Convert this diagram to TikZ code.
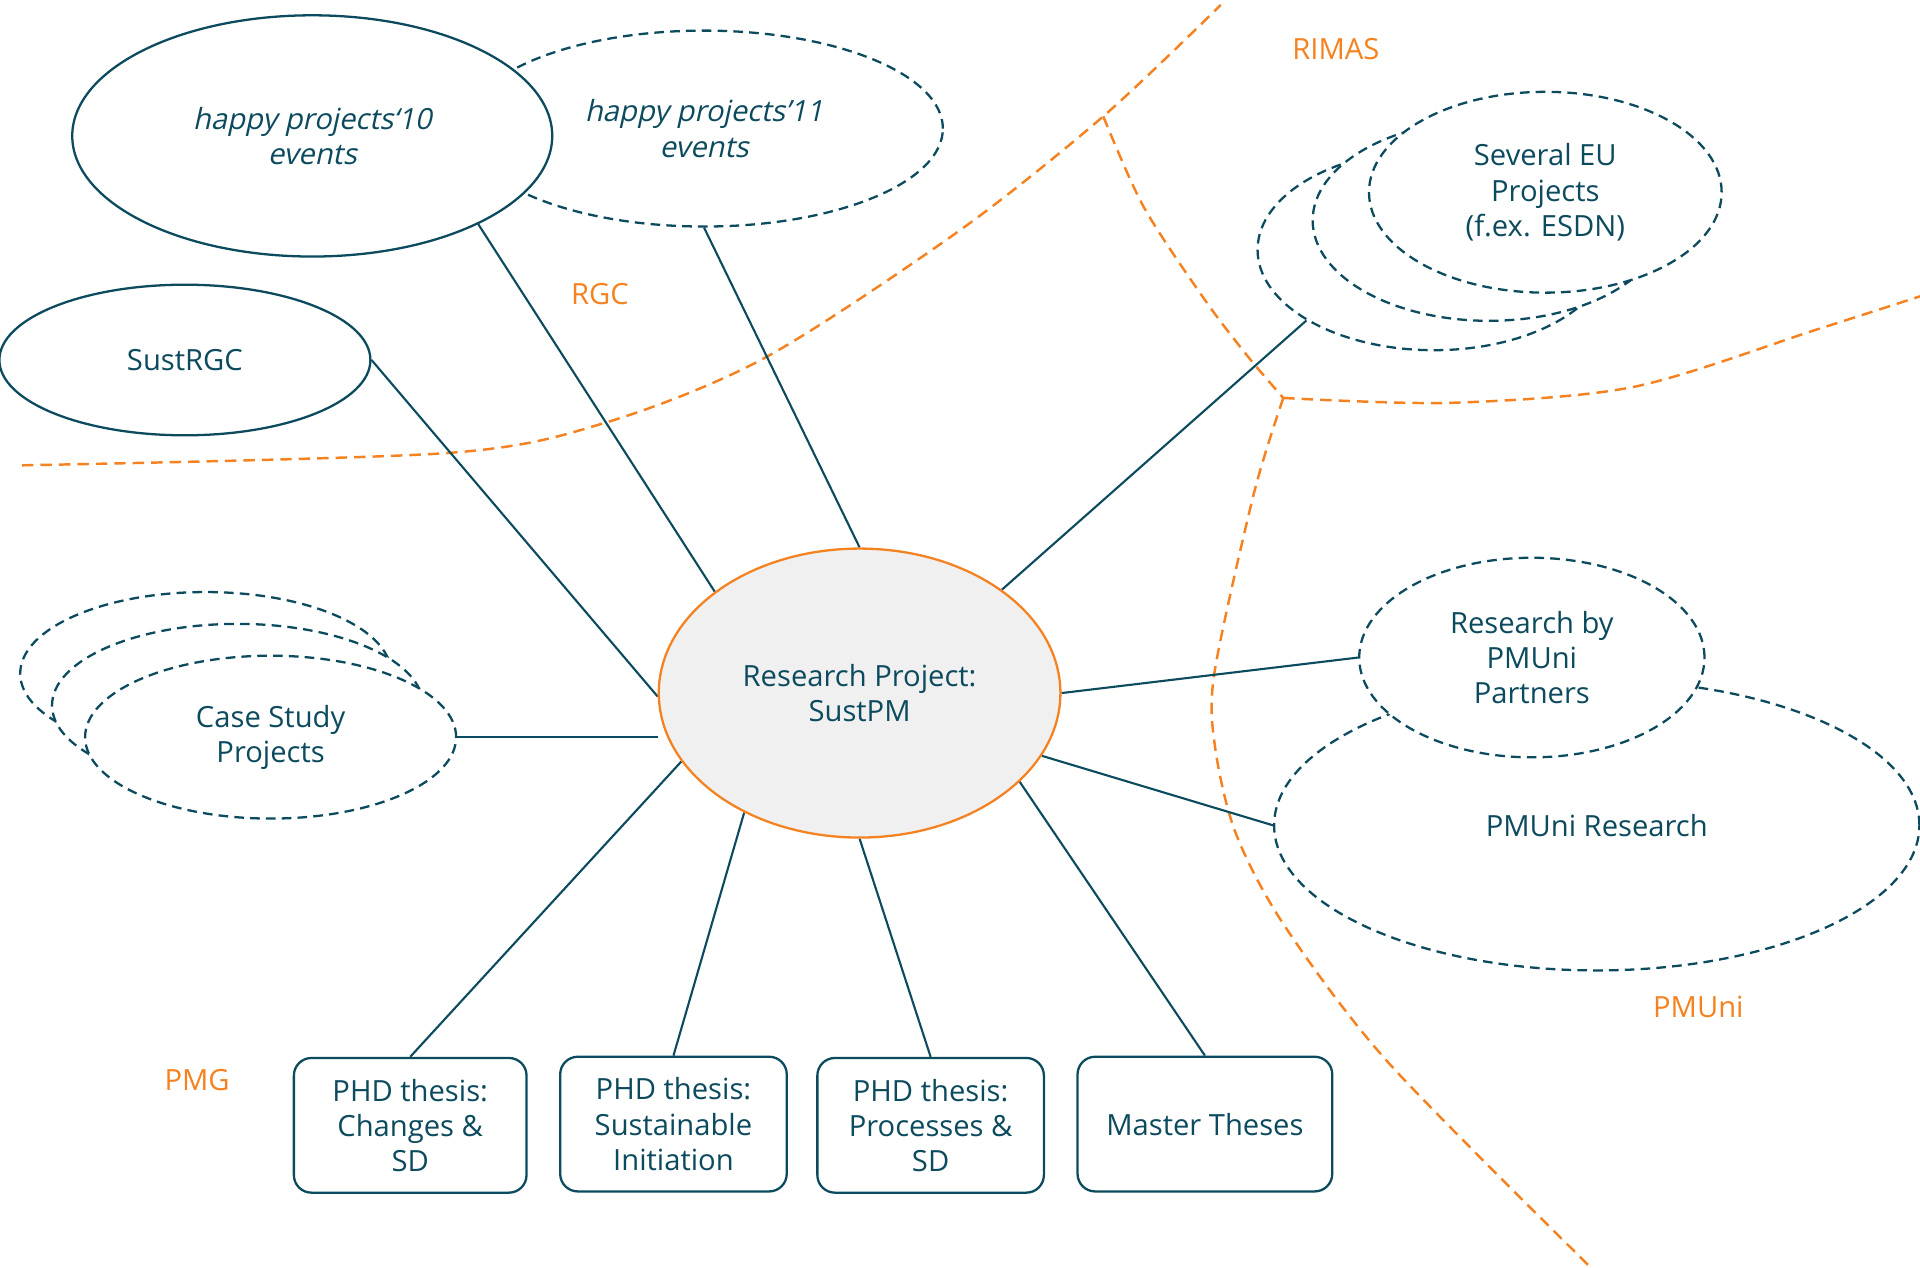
\documentclass[tikz,border=0pt]{standalone}
\usepackage{fontspec}
\setmainfont{Open Sans}
\newfontfamily\slantfont[FakeSlant=0.22]{Open Sans}
\usetikzlibrary{shapes.geometric,backgrounds,positioning}
\definecolor{deepteal}{HTML}{0C4A5E}
\definecolor{regorange}{HTML}{F58220}
\definecolor{ctrgray}{HTML}{F0F0F0}
\newcommand{\pxu}{0.02449cm}
\tikzset{
    ellsz/.style 2 args={minimum width=#1*\pxu, minimum height=#2*\pxu},
    boxsz/.style 2 args={minimum width=#1*\pxu, minimum height=#2*\pxu},
    ellsty/.style={ellipse, draw=deepteal, line width=1.3pt, fill=white, inner sep=0pt, align=center, text=deepteal},
    dellsty/.style={ellsty, dash pattern=on 5.5pt off 3.5pt},
    ctrsty/.style={ellsty, draw=regorange, fill=ctrgray},
    boxsty/.style={rectangle, rounded corners=10pt, draw=deepteal, line width=1.3pt, fill=white, inner sep=0pt, align=center, text=deepteal},
    labsty/.style={text=regorange, inner sep=0pt},
    bordsty/.style={draw=regorange, line width=1.4pt, dash pattern=on 6.5pt off 4pt},
    linksty/.style={draw=deepteal, line width=1.2pt},
}

\begin{document}
\begin{tikzpicture}[x=\pxu, y=-\pxu, font=\fontsize{16.6}{20}\selectfont]
\useasboundingbox (0,0) rectangle (1568,1035);

% groups on the left
\node[dellsty, ellsz={390}{160}] (hp11) at (575,105) {\slantfont happy projects’11\\\slantfont events};
\node[ellsty, ellsz={392}{197}] (hp10) at (255,111) {\slantfont happy projects‘10\\\slantfont events};
\node[ellsty, ellsz={303}{123}] (srgc) at (151,294) {SustRGC};

\node[dellsty, ellsz={303}{133}] (cs3) at (168,550) {};
\node[dellsty, ellsz={303}{133}] (cs2) at (194,576) {};
\node[dellsty, ellsz={303}{133}] (cs1) at (221,602) {Case Study\\Projects};

% groups on the right
\node[dellsty, ellsz={288}{164}] (eu3) at (1171,204) {};
\node[dellsty, ellsz={288}{164}] (eu2) at (1216,180) {};
\node[dellsty, ellsz={288}{164}] (eu1) at (1262,157) {Several EU\\Projects\\(f.ex. ESDN)};

\node[dellsty, ellsz={527}{237}] (pmr) at (1304,674) {PMUni Research};
\node[dellsty, ellsz={282}{163}] (pmp) at (1251,537) {Research by\\PMUni\\Partners};

% the project itself
\node[ctrsty, ellsz={328}{236}] (rp) at (702,566) {Research Project:\\SustPM};

% theses
\node[boxsty, boxsz={190}{110}] (phd1) at (335,919) {PHD thesis:\\Changes \&\\SD};
\node[boxsty, boxsz={185}{110}] (phd2) at (550,918) {PHD thesis:\\Sustainable\\Initiation};
\node[boxsty, boxsz={185}{110}] (phd3) at (760,919) {PHD thesis:\\Processes \&\\SD};
\node[boxsty, boxsz={208}{110}] (mth) at (984,918) {Master Theses};

% region names
\node[labsty] (rimas) at (1091,40) {RIMAS};
\node[labsty] (rgc) at (490,240) {RGC};
\node[labsty] (pmg) at (161,882) {PMG};
\node[labsty] (pmuni) at (1387,822) {PMUni};

\begin{pgfonlayer}{background}
% region borders
\coordinate (fork) at (901,95);
\coordinate (jn) at (1048,325);
\draw[bordsty] plot[smooth] coordinates {(18,380) (365,370) (495,345) (625,292) (784,188) (fork) (997,4)};
\draw[bordsty] plot[smooth] coordinates {(fork) (934,169) (984,245) (1019,291) (jn)};
\draw[bordsty] plot[smooth] coordinates {(jn) (1184,329) (1334,316) (1484,269) (1568,242)};
\draw[bordsty] plot[smooth] coordinates {(jn) (1024,403) (992,548) (992,608) (1009,680) (1049,756) (1134,868) (1299,1035)};

% links
\draw[linksty] (rp.181) -- (srgc.east);
\draw[linksty] (rp.145) -- (hp10.332);
\draw[linksty] (rp.north) -- (hp11.south);
\draw[linksty] (rp.36) -- (eu3.209);
\draw[linksty] (rp.east) -- (pmp.west);
\draw[linksty] (rp.341) -- (pmr.west);
\draw[linksty] (cs1.east) -- (cs1.east -| rp.west);
\draw[linksty] (rp.201) -- (phd1.north);
\draw[linksty] (rp.226) -- (phd2.north);
\draw[linksty] (rp.south) -- (phd3.north);
\draw[linksty] (rp.331) -- (mth.north);
\end{pgfonlayer}
\end{tikzpicture}
\end{document}
